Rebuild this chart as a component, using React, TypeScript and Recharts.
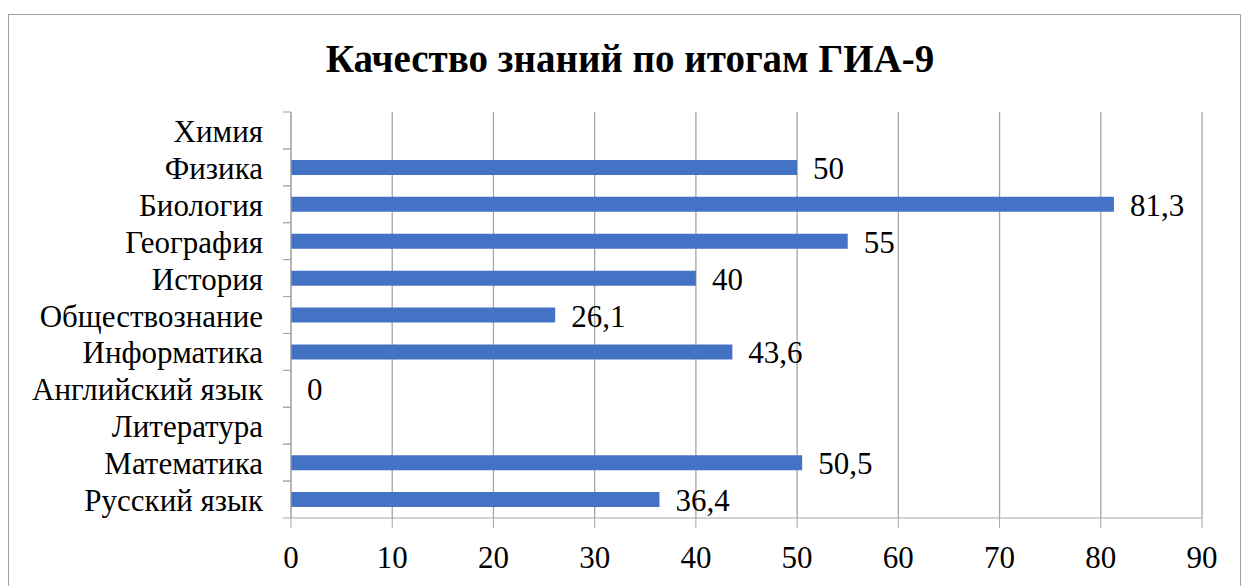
import React from 'react';
import { BarChart, Bar, XAxis, YAxis, CartesianGrid, LabelList } from 'recharts';

const categories = ['Русский язык', 'Математика ', 'Литература', 'Английский язык', 'Информатика', 'Обществознание', 'История', 'География', 'Биология', 'Физика', 'Химия'];
const values: (number | null)[] = [36.4, 50.5, null, 0, 43.6, 26.1, 40, 55, 81.3, 50, null];
const xTicks = [0, 10, 20, 30, 40, 50, 60, 70, 80, 90];
const title = 'Качество знаний по итогам ГИА-9';

const data = categories.map((c, i) => ({ name: c, value: values[i] }));

const W = 1247;
const H = 586;
const M = { top: 112, right: 45, bottom: 0, left: 0 };
const Y_W = 291;
const X_H = 68;
const plotH = H - M.top - M.bottom - X_H;
const band = plotH / categories.length;
const FONT = '"Liberation Serif", serif';
const GRID = '#a6a6a6';
const FS = 31;

const css = `#root, #root *, #root svg text, #root svg tspan, #root .recharts-wrapper, #root .recharts-surface { font-family: "Liberation Serif", "Times New Roman", serif !important; }`;

const YTick = (props: any) => {
  const { x, y, payload } = props;
  const ax = x + 28;
  return (
    <g>
      <line x1={ax - 8} x2={ax} y1={y - band / 2} y2={y - band / 2} stroke={GRID} />
      <line x1={ax - 8} x2={ax} y1={y + band / 2} y2={y + band / 2} stroke={GRID} />
      <text x={x} y={y + 1} textAnchor="end" dominantBaseline="central" fontFamily={FONT} fontSize={FS} fill="#000">
        {payload.value}
      </text>
    </g>
  );
};

const XTick = (props: any) => {
  const { x, y, payload } = props;
  return (
    <text x={x} y={y} dy={17} textAnchor="middle" dominantBaseline="central" fontFamily={FONT} fontSize={FS} fill="#000">
      {payload.value}
    </text>
  );
};

const ValueLabel = (props: any) => {
  const { x, y, width, height, value } = props;
  if (value === null || value === undefined) return null;
  return (
    <text x={x + width + 16} y={y + height / 2 + 1} textAnchor="start" dominantBaseline="central" fontFamily={FONT} fontSize={FS} fill="#000">
      {String(value).replace('.', ',')}
    </text>
  );
};

export default function App() {
  return (
    <div style={{ position: 'absolute', left: 0, top: 0, width: W, height: H, overflow: 'hidden', background: '#fff', fontFamily: FONT }}>
      <style>{css}</style>
      <div style={{ position: 'absolute', left: 8, top: 14, width: 1231, height: 700, border: '1px solid #a0a0a0' }} />
      <div style={{ position: 'absolute', left: 0, top: 39, width: 1260, textAlign: 'center', fontFamily: FONT, fontWeight: 'bold', fontSize: 39, lineHeight: '39px', color: '#000' }}>
        {title}
      </div>
      <div style={{ position: 'absolute', left: 0, top: 0 }}>
        <BarChart width={W} height={H} data={data} layout="vertical" margin={M}>
          <CartesianGrid horizontal={false} stroke={GRID} strokeWidth={1.3} />
          <XAxis
            type="number"
            domain={[0, 90]}
            ticks={xTicks}
            height={X_H}
            stroke={GRID}
            tickSize={10}
            tickMargin={12}
            tick={<XTick />}
            interval={0}
          />
          <YAxis
            type="category"
            dataKey="name"
            reversed
            width={Y_W}
            stroke={GRID}
            tickLine={false}
            tickSize={0}
            tickMargin={28}
            tick={<YTick />}
            interval={0}
          />
          <Bar dataKey="value" fill="#4472C4" barSize={15} isAnimationActive={false} minPointSize={(v: any) => (v === 0 ? 0.01 : 0)}>
            <LabelList dataKey="value" content={<ValueLabel />} />
          </Bar>
        </BarChart>
      </div>
    </div>
  );
}
